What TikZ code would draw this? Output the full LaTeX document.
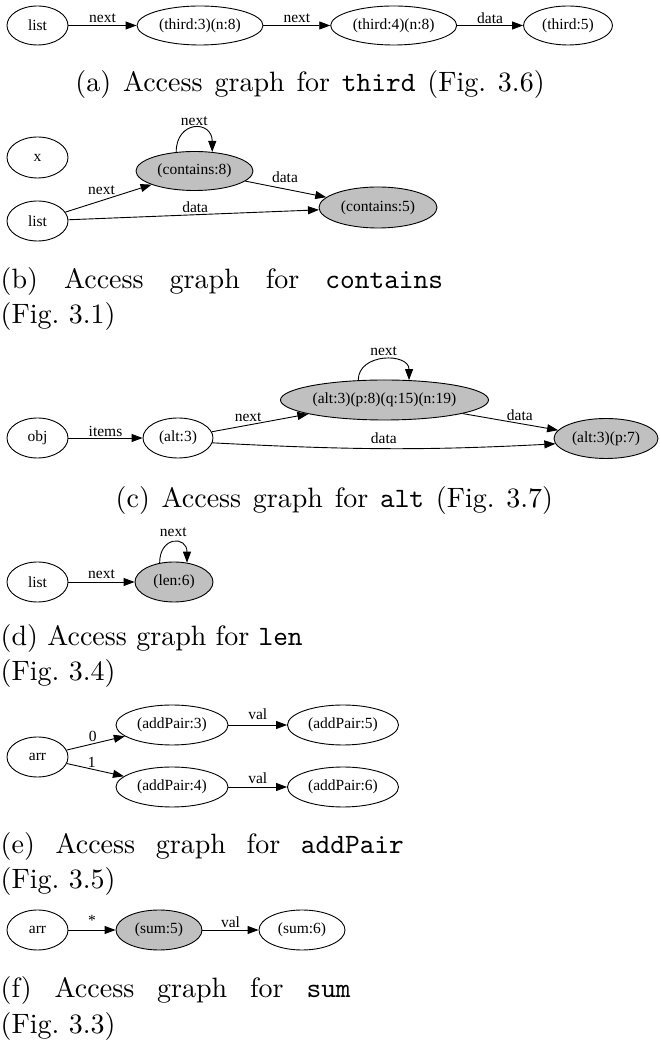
\documentclass[tikz,border=0pt]{standalone}
\usepackage{fontspec}
\newfontfamily\gvfont{Liberation Serif}
\usetikzlibrary{arrows.meta,shapes.geometric}
\definecolor{nodegray}{RGB}{192,192,192}
\tikzset{
  gv/.style={draw, ellipse, inner sep=0pt, line width=0.9pt, minimum height=40pt,
    font=\gvfont\fontsize{15.5}{18}\selectfont},
  gvg/.style={gv, fill=nodegray},
  gvedge/.style={-{Triangle[length=11pt,width=8pt]}, line width=0.9pt},
  lbl/.style={font=\gvfont\fontsize{15.5}{18}\selectfont, inner sep=0pt},
  capnode/.style={anchor=base west, inner sep=0pt},
}
\newcommand{\capbox}[1]{\scalebox{2.8}{\fontsize{10}{12}\selectfont #1}}
\begin{document}
\begin{tikzpicture}[x=1pt,y=1pt]
\useasboundingbox (0,0) rectangle (659,1042);
% ---------------- (a)
\node[gv, minimum width=61pt, minimum height=39pt] (alist) at (37.5,1016.5) {list};
\node[gv, minimum width=126pt, minimum height=39pt] (at3) at (200,1016.5) {(third:3)(n:8)};
\node[gv, minimum width=126pt, minimum height=39pt] (at4) at (393.7,1016.5) {(third:4)(n:8)};
\node[gv, minimum width=89pt, minimum height=39pt] (at5) at (568,1016.5) {(third:5)};
\draw[gvedge] (alist) -- node[lbl, midway, yshift=7pt] (al1) {next} (at3);
\draw[gvedge] (at3) -- node[lbl, midway, yshift=7pt] (al2) {next} (at4);
\draw[gvedge] (at4) -- node[lbl, midway, yshift=7pt] (al3) {data} (at5);
\node[capnode] (capa) at (75.2,950) {\capbox{\makebox[167.6pt][s]{(a) Access graph for \texttt{third} (Fig.\ 3.6)}}};
% ---------------- (b)
\node[gv, minimum width=61pt, minimum height=41pt] (bx) at (37.5,884.5) {x};
\node[gvg, minimum width=117pt, minimum height=39pt] (bc8) at (194.5,871) {(contains:8)};
\node[gv, minimum width=61pt] (blist) at (37.5,821) {list};
\node[gvg, minimum width=118pt, minimum height=41pt] (bc5) at (378,834.5) {(contains:5)};
\draw[gvedge] (blist) -- node[lbl, pos=0.42, yshift=10.6pt] (bl1) {next} (bc8);
\draw[gvedge] (blist) -- node[lbl, pos=0.506, yshift=8pt] (bl2) {data} (bc5);
\draw[gvedge] (bc8) -- node[lbl, pos=0.49, yshift=11.4pt] (bl3) {data} (bc5);
\draw[gvedge] (bc8.134) .. controls +(0,32) and +(0,32) .. (bc8.47)
  node[lbl, pos=0.5, yshift=6.5pt] (bl4) {next};
\node[capnode] (capb1) at (0.5,753) {\capbox{\makebox[158pt][s]{(b) Access graph for \texttt{contains}}}};
\node[capnode] (capb2) at (0.5,718) {\capbox{(Fig.\ 3.1)}};
% ---------------- (c)
\node[gv, minimum width=61pt] (cobj) at (37.5,604) {obj};
\node[gv, minimum width=70pt] (ca3) at (178,604) {(alt:3)};
\node[gvg, minimum width=208pt] (cbig) at (384.5,642) {(alt:3)(p:8)(q:15)(n:19)};
\node[gvg, minimum width=104pt] (cp7) at (606,603.5) {(alt:3)(p:7)};
\draw[gvedge] (cobj) -- node[lbl, midway, yshift=7pt] (cl1) {items} (ca3);
\draw[gvedge] (ca3) -- node[lbl, pos=0.376, yshift=7.5pt] (cl2) {next} (cbig);
\draw[gvedge] (cbig) -- node[lbl, pos=0.6, yshift=8.2pt] (cl3) {data} (cp7);
\draw[gvedge] (ca3.-8) to[out=-3,in=183] node[lbl, midway, yshift=10pt] (cl4) {data} (cp7.186);
\draw[gvedge] (cbig.143) .. controls +(0,27.5) and +(0,27.5) .. (cbig.39)
  node[lbl, pos=0.5, yshift=8pt] (cl5) {next};
\node[capnode] (capc) at (115.5,534) {\capbox{\makebox[156.2pt][s]{(c) Access graph for \texttt{alt} (Fig.\ 3.7)}}};
% ---------------- (d)
\node[gv, minimum width=61pt] (dlist) at (37.5,460) {list};
\node[gvg, minimum width=78pt] (dlen) at (174,460) {(len:6)};
\draw[gvedge] (dlist) -- node[lbl, midway, yshift=8pt] (dl1) {next} (dlen);
\draw[gvedge] (dlen.127) .. controls +(0,27) and +(0,27) .. (dlen.56)
  node[lbl, pos=0.5, yshift=10pt] (dl2) {next};
\node[capnode] (capd1) at (0.5,396) {\capbox{(d) Access graph for \texttt{len}}};
\node[capnode] (capd2) at (0.5,361) {\capbox{(Fig.\ 3.4)}};
% ---------------- (e)
\node[gv, minimum width=61pt] (earr) at (37.5,285) {arr};
\node[gv, minimum width=112pt] (eap3) at (172,317) {(addPair:3)};
\node[gv, minimum width=111pt] (eap5) at (343,317) {(addPair:5)};
\node[gv, minimum width=112pt] (eap4) at (172,255) {(addPair:4)};
\node[gv, minimum width=111pt] (eap6) at (343,255) {(addPair:6)};
\draw[gvedge] (earr) -- node[lbl, pos=0.45, yshift=7pt] (el1) {0} (eap3);
\draw[gvedge] (earr) -- node[lbl, pos=0.436, yshift=6.5pt] (el2) {1} (eap4);
\draw[gvedge] (eap3) -- node[lbl, midway, yshift=11pt] (el3) {val} (eap5);
\draw[gvedge] (eap4) -- node[lbl, midway, yshift=9pt] (el4) {val} (eap6);
\node[capnode] (cape1) at (0.5,188) {\capbox{\makebox[144pt][s]{(e) Access graph for \texttt{addPair}}}};
\node[capnode] (cape2) at (0.5,153) {\capbox{(Fig.\ 3.5)}};
% ---------------- (f)
\node[gv, minimum width=61pt] (farr) at (37.5,112) {arr};
\node[gvg, minimum width=86pt] (fs5) at (159,112) {(sum:5)};
\node[gv, minimum width=86pt] (fs6) at (302,112) {(sum:6)};
\draw[gvedge] (farr) -- node[lbl, midway, yshift=10pt] (fl1) {*} (fs5);
\draw[gvedge] (fs5) -- node[lbl, midway, yshift=8.3pt] (fl2) {val} (fs6);
\node[capnode] (capf1) at (0.5,44.5) {\capbox{\makebox[125pt][s]{(f) Access graph for \texttt{sum}}}};
\node[capnode] (capf2) at (0.5,8) {\capbox{(Fig.\ 3.3)}};
\end{tikzpicture}
\end{document}
